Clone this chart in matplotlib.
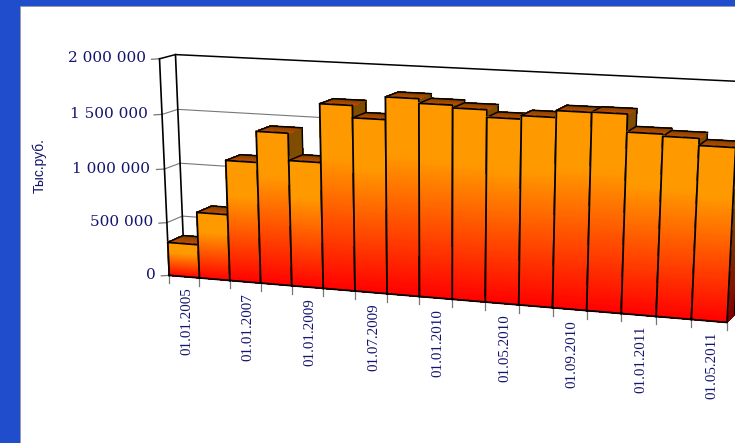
import numpy as np
import matplotlib
matplotlib.use("Agg")
import matplotlib.pyplot as plt
from matplotlib.collections import PolyCollection
from matplotlib.patches import Rectangle

tick_labels = ["01.01.2005", "", "01.01.2007", "", "01.01.2009", "", "01.07.2009", "",
               "01.01.2010", "", "01.05.2010", "", "01.09.2010", "", "01.01.2011", "", "01.05.2011"]
values = [314, 617, 1116, 1397, 1152, 1675, 1567, 1765, 1725, 1701,
          1637, 1667, 1726, 1729, 1577, 1559, 1499]
y_ticks = [0, 500, 1000, 1500, 2000]
y_tick_labels = ["0", "500 000", "1 000 000", "1 500 000", "2 000 000"]
y_max = 2000

NAVY = "#14146e"
n = len(values)

# camera fit: (bar position, height share, depth) -> figure pixel
cal_3d = np.array([(0, 0, 0), (0, 1, 0), (n, 0, 0), (n, 1, 0), (8, 0, 0),
                   (0, 1, 1), (n, 1, 1), (0, 0, 1), (n, 0, 1)], float)
cal_px = np.array([(169, 275), (160, 58), (727, 323), (739, 88), (419, 296),
                   (175, 55), (746, 81), (185, 269), (735, 313)], float)
A, b = [], []
for (X, Y, Z), (px, py) in zip(cal_3d, cal_px):
    A.append([X, Y, Z, 1, 0, 0, 0, 0, -px * X, -px * Y, -px * Z])
    A.append([0, 0, 0, 0, X, Y, Z, 1, -py * X, -py * Y, -py * Z])
    b += [px, py]
cam = np.append(np.linalg.lstsq(np.array(A), np.array(b), rcond=None)[0], 1).reshape(3, 4)


def project(u, val, d):
    p = cam @ np.array([u, val / y_max, d, 1.0])
    return p[0] / p[2], p[1] / p[2]


def mix(c1, c2, t):
    return tuple(np.array(c1) * (1 - t) + np.array(c2) * t)


RED = (1.0, 0.0, 0.0)
ORANGE = (1.0, 0.6, 0.0)


def front_color(t):
    return mix(RED, ORANGE, min(t / 0.72, 1.0))


def add_strips(polys, cols, z):
    ax.add_collection(PolyCollection(polys, facecolors=cols, edgecolors="face", linewidths=0.5,
                                     antialiaseds=False, zorder=z))


fig = plt.figure(figsize=(7.35, 4.43), dpi=100)
ax = fig.add_axes([0, 0, 1, 1])
ax.set_xlim(0, 735)
ax.set_ylim(443, 0)
ax.axis("off")

ax.add_patch(Rectangle((0, 0), 735, 443, fc="#1f4dcc", ec="none", zorder=0))
ax.add_patch(Rectangle((20, 6), 715, 437, fc="white", ec="#9a9a9a", lw=0.6, zorder=0.5))

# walls and grid
for v in y_ticks:
    pts = [project(0, v, 0), project(0, v, 1), project(n, v, 1)]
    col = "black" if v == y_max else "#777777"
    lw = 1.1 if v == y_max else 0.8
    ax.plot(*zip(*pts), color=col, lw=lw, zorder=1)
    x0, y0 = pts[0]
    ax.plot([x0 - 8, x0], [y0 + 0.5, y0], color="#777777", lw=0.9, zorder=1)
    ax.text(x0 - 14, y0 - 0.5, y_tick_labels[y_ticks.index(v)], ha="right", va="center",
            family="DejaVu Serif", fontsize=11, color=NAVY)
for d in (0, 1):
    ax.plot(*zip(project(0, 0, d), project(0, y_max, d)), color="black", lw=1.2, zorder=1)

# bars, left to right so that each one hides the side of the previous one
for i, val in enumerate(values):
    z = 2 + i
    strips = 120
    polys, cols = [], []
    for k in range(strips):
        t0, t1 = k / strips, (k + 1) / strips
        polys.append([project(i + 1, val * t0, 0), project(i + 1, val * t0, 1),
                      project(i + 1, val * t1, 1), project(i + 1, val * t1, 0)])
        cols.append(tuple(np.array(front_color(t0)) * 0.5))
    add_strips(polys, cols, z)
    ax.plot(*zip(project(i + 1, 0, 1), project(i + 1, val, 1), project(i + 1, val, 0)),
            color="black", lw=1.0, zorder=z)

    polys, cols = [], []
    for k in range(12):
        d0, d1 = k / 12, (k + 1) / 12
        polys.append([project(i, val, d0), project(i + 1, val, d0),
                      project(i + 1, val, d1), project(i, val, d1)])
        cols.append(mix((0.82, 0.3, 0.0), (0.5, 0.26, 0.0), d0))
    add_strips(polys, cols, z)
    ax.plot(*zip(project(i, val, 0), project(i, val, 1), project(i + 1, val, 1)),
            color="black", lw=1.1, zorder=z)

    polys, cols = [], []
    for k in range(strips):
        t0, t1 = k / strips, (k + 1) / strips
        polys.append([project(i, val * t0, 0), project(i + 1, val * t0, 0),
                      project(i + 1, val * t1, 0), project(i, val * t1, 0)])
        cols.append(front_color(t0))
    add_strips(polys, cols, z)
    outline = [project(i, 0, 0), project(i, val, 0), project(i + 1, val, 0), project(i + 1, 0, 0), project(i, 0, 0)]
    ax.plot(*zip(*outline), color="black", lw=1.3, zorder=z)

# x ticks and labels
for i in range(n + 1):
    x0, y0 = project(i, 0, 0)
    ax.plot([x0, x0], [y0, y0 + 8], color="#777777", lw=0.9, zorder=1)
for i, lab in enumerate(tick_labels):
    if lab:
        x0, y0 = project(i + 0.5, 0, 0)
        ax.text(x0 + 2.5, y0 + 11, lab, rotation=90, ha="center", va="top",
                family="Liberation Serif", fontsize=10.8, color=NAVY)

ax.text(39.5, 166, "Тыс.руб.", rotation=90, ha="center", va="center",
        family="Liberation Sans", fontsize=10, color=NAVY)

fig.savefig("out.png", dpi=100)
